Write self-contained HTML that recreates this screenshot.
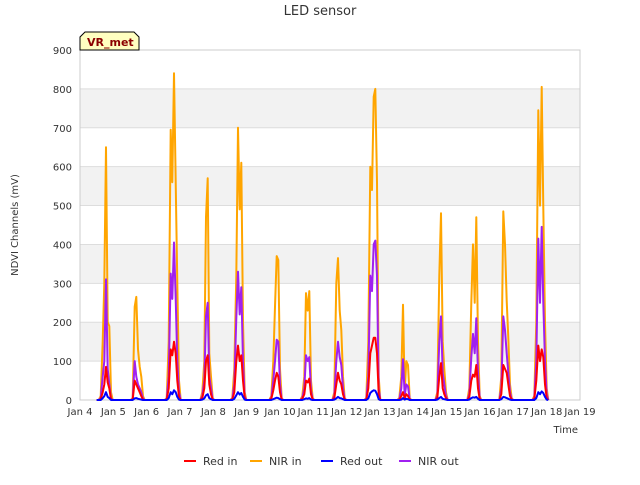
<!DOCTYPE html>
<html><head><meta charset="utf-8"><style>
body{margin:0;background:#fff;font-family:"Liberation Sans",sans-serif;}
svg text{font-family:"DejaVu Sans","Liberation Sans",sans-serif;}
</style></head><body>
<svg id="c" width="640" height="480">
<rect x="0" y="0" width="640" height="480" fill="#fff"/>
<g id="bands"></g><g id="grid"></g>
<rect x="80" y="50" width="500" height="350" fill="none" stroke="#ccc"/>
<g id="series"></g><g id="ticks"></g>
<text x="320" y="15" text-anchor="middle" font-size="13" fill="#333">LED sensor</text>
<text x="18" y="225" text-anchor="middle" font-size="10" fill="#333" transform="rotate(-90 18 225)">NDVI Channels (mV)</text>
<text x="578" y="433" text-anchor="end" font-size="10" fill="#333">Time</text>
<g>
<path d="M80,50 L80,37 L85,32 L134,32 L139,37 L139,50 Z" fill="#ffffc0" stroke="#000"/>
<text x="87" y="46" font-size="11" font-weight="bold" fill="#8b0000">VR_met</text></g>
<g id="legend"></g>
</svg>
<script>
const yTicks=[0,100,200,300,400,500,600,700,800,900];
const xTickLabels=["Jan 4","Jan 5","Jan 6","Jan 7","Jan 8","Jan 9","Jan 10","Jan 11","Jan 12","Jan 13","Jan 14","Jan 15","Jan 16","Jan 17","Jan 18","Jan 19"];
const sampleOffsets=[0.50,0.56,0.62,0.68,0.73,0.78,0.83,0.88,0.93,0.98];
const dayShift=[0,-0.04,0.04,0.05,0.01,0.12,0.05,0.01,0.03,-0.04,0.10,0.06,0.02,0.07];
const nirIn=[[0,0,10,150,300,650,200,190,20,0],[0,0,5,240,265,130,85,60,10,0],[0,5,150,695,560,840,560,300,50,0],[0,0,20,100,470,570,120,60,5,0],[0,5,80,320,700,490,610,200,20,0],[0,0,10,100,240,370,360,80,5,0],[0,0,10,60,275,230,280,50,5,0],[0,0,20,300,365,230,180,60,5,0],[0,5,150,600,540,780,800,560,60,0],[0,0,5,60,245,20,100,90,5,0],[0,0,20,320,480,150,80,20,0,0],[0,0,30,250,400,250,470,150,10,0],[0,0,60,485,400,255,160,40,5,0],[0,10,200,745,500,805,495,200,30,0]];
const nirOut=[[0,0,5,60,100,310,80,40,5,0],[0,0,2,100,60,40,30,20,3,0],[0,2,60,325,260,405,260,100,20,0],[0,0,10,50,215,250,60,30,2,0],[0,2,40,210,330,220,290,100,10,0],[0,0,5,50,100,155,150,40,2,0],[0,0,5,30,115,100,110,25,2,0],[0,0,10,100,150,110,90,30,2,0],[0,2,60,320,280,400,410,320,30,0],[0,0,2,30,105,10,40,35,2,0],[0,0,10,150,215,70,40,10,0,0],[0,0,15,110,170,120,210,70,5,0],[0,0,30,215,180,120,70,20,2,0],[0,5,100,415,250,445,250,100,15,0]];
const redIn=[[0,0,2,20,40,85,45,30,2,0],[0,0,1,50,40,30,20,10,1,0],[0,1,30,130,115,150,120,50,8,0],[0,0,5,30,100,115,40,15,1,0],[0,1,20,100,140,100,115,50,5,0],[0,0,3,25,50,70,60,20,1,0],[0,0,3,15,50,45,55,15,1,0],[0,0,5,40,70,50,40,15,1,0],[0,1,30,120,140,160,160,120,15,0],[0,0,1,10,20,5,15,10,1,0],[0,0,5,60,95,30,15,5,0,0],[0,0,8,50,65,60,90,30,2,0],[0,0,15,90,80,70,40,10,1,0],[0,2,50,140,100,130,110,40,5,0]];
const redOut=[[0,0,0,5,10,20,8,5,0,0],[0,0,0,4,5,3,2,1,0,0],[0,0,5,20,15,25,20,8,1,0],[0,0,1,4,12,15,5,2,0,0],[0,0,3,12,20,14,18,8,1,0],[0,0,0,2,4,6,5,2,0,0],[0,0,0,2,4,3,5,1,0,0],[0,0,1,4,8,5,4,2,0,0],[0,0,4,18,22,25,24,15,2,0],[0,0,0,1,5,1,3,2,0,0],[0,0,1,5,8,3,2,1,0,0],[0,0,1,5,7,6,8,3,0,0],[0,0,2,8,7,5,3,1,0,0],[0,0,5,20,15,22,18,8,1,0]];
const NS="http://www.w3.org/2000/svg";
const X0=80,X1=580,Y0=400,Y1=50;
const xs=d=>X0+(X1-X0)*d/15, ys=v=>Y0-(Y0-Y1)*v/900;
const bands=document.getElementById('bands'),grid=document.getElementById('grid'),ticks=document.getElementById('ticks');
for(let i=0;i<yTicks.length;i++){
 if(i<yTicks.length-1 && i%2===1){const r=document.createElementNS(NS,'rect');
  r.setAttribute('x',X0);r.setAttribute('y',ys(yTicks[i+1]));r.setAttribute('width',X1-X0);r.setAttribute('height',ys(yTicks[i])-ys(yTicks[i+1]));r.setAttribute('fill','#f2f2f2');
  
  
  bands.appendChild(r);}
 const l=document.createElementNS(NS,'line');
 l.setAttribute('x1',X0);l.setAttribute('x2',X1);l.setAttribute('y1',ys(yTicks[i]));l.setAttribute('y2',ys(yTicks[i]));l.setAttribute('stroke','#ddd');
 
 
 grid.appendChild(l);
 const t=document.createElementNS(NS,'text');
 t.setAttribute('x',X0-8);t.setAttribute('y',ys(yTicks[i])+4);t.setAttribute('text-anchor','end');t.setAttribute('font-size','10');t.setAttribute('fill','#333');t.textContent=yTicks[i];
 
 
 ticks.appendChild(t);}
xTickLabels.forEach((s,i)=>{const t=document.createElementNS(NS,'text');
 t.setAttribute('x',xs(i));t.setAttribute('y',415);t.setAttribute('text-anchor','middle');t.setAttribute('font-size','10');t.setAttribute('fill','#333');t.textContent=s;
 
 
 ticks.appendChild(t);});
const series=[["NIR in",nirIn,"#ffa500"],["NIR out",nirOut,"#a020f0"],["Red in",redIn,"#ff0000"],["Red out",redOut,"#0000ff"]];
const sg=document.getElementById('series');
series.forEach(([name,data,col])=>{
 const pts=[];
 data.forEach((day,d)=>{day.forEach((v,k)=>{pts.push(xs(d+sampleOffsets[k]+dayShift[d]).toFixed(1)+','+ys(v).toFixed(1));});});
 const p=document.createElementNS(NS,'polyline');
 p.setAttribute('points',pts.join(' '));p.setAttribute('fill','none');p.setAttribute('stroke',col);p.setAttribute('stroke-width','2');p.setAttribute('stroke-linejoin','round');
 
 
 sg.appendChild(p);});
const leg=document.getElementById('legend');
const legOrder=[["Red in","#ff0000",184],["NIR in","#ffa500",250],["Red out","#0000ff",321],["NIR out","#a020f0",399]];
legOrder.forEach(([name,col,x])=>{
 const g=document.createElementNS(NS,'g');
 
 
 const l=document.createElementNS(NS,'line');l.setAttribute('x1',x);l.setAttribute('x2',x+12);l.setAttribute('y1',461);l.setAttribute('y2',461);l.setAttribute('stroke',col);l.setAttribute('stroke-width','2');
 const t=document.createElementNS(NS,'text');t.setAttribute('x',x+19);t.setAttribute('y',465);t.setAttribute('font-size','11');t.setAttribute('fill','#333');t.textContent=name;
 g.appendChild(l);g.appendChild(t);leg.appendChild(g);});
</script>
</body></html>
